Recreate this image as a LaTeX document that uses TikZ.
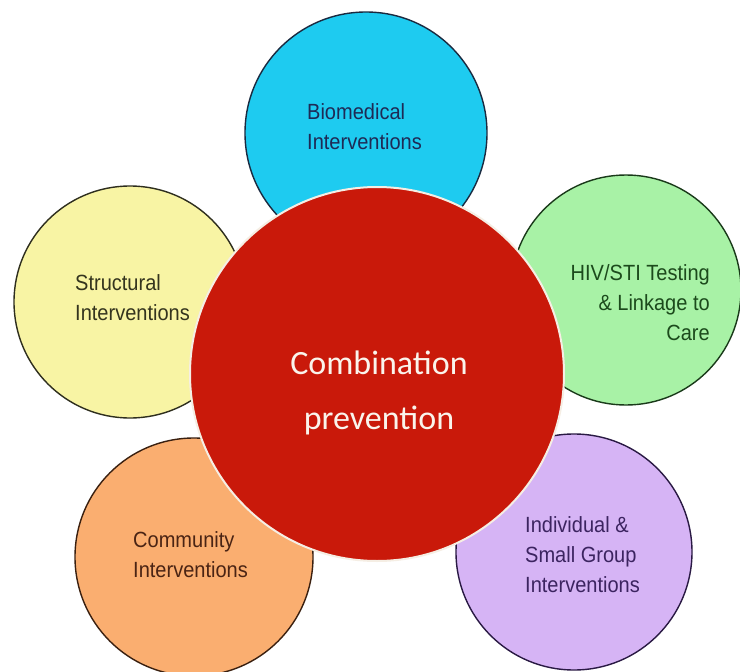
\documentclass[tikz,border=0pt]{standalone}
\usepackage{fontspec}
\setmainfont{Liberation Sans}[FakeStretch=0.91]
\newfontfamily\calib{Carlito}
\definecolor{bluef}{HTML}{1ECBF0}
\definecolor{greenf}{HTML}{A8F2A6}
\definecolor{yellowf}{HTML}{F8F4A4}
\definecolor{orangef}{HTML}{FAAE70}
\definecolor{purplef}{HTML}{D6B4F5}
\definecolor{redf}{HTML}{C9190A}
\definecolor{blueo}{HTML}{1A2A40}
\definecolor{greeno}{HTML}{1A3A1A}
\definecolor{yellowo}{HTML}{2E2E1E}
\definecolor{orangeo}{HTML}{3A2010}
\definecolor{purpleo}{HTML}{2A1A44}
\definecolor{biot}{HTML}{1E2A55}
\definecolor{hivt}{HTML}{1C4A1C}
\definecolor{strt}{HTML}{34341E}
\definecolor{comt}{HTML}{4A2414}
\definecolor{indt}{HTML}{3C2460}
\begin{document}
\begin{tikzpicture}[x=1pt,y=-1pt,
  disc/.style={circle, draw, line width=1.4pt, inner sep=0pt, minimum size=#1},
  lbl/.style={inner sep=0pt, font=\fontsize{22}{30}\selectfont}]
\useasboundingbox[fill=white] (0,0) rectangle (740,672);
\node[disc=242pt, fill=bluef, draw=blueo] (bio) at (366,133) {};
\node[disc=230pt, fill=greenf, draw=greeno] (hiv) at (626,290) {};
\node[disc=232pt, fill=yellowf, draw=yellowo] (str) at (130,302) {};
\node[disc=238pt, fill=orangef, draw=orangeo] (com) at (194,557) {};
\node[disc=236pt, fill=purplef, draw=purpleo] (ind) at (574,552) {};
\node[disc=374pt, fill=redf, draw={rgb,255:red,245;green,238;blue,228}, line width=2pt] (combo) at (377,374) {};
\node[lbl, anchor=north west, align=left, text=biot] (biotext) at (307,103) {Biomedical\\Interventions};
\node[lbl, anchor=north east, align=right, text=hivt] (hivtext) at (710,264) {HIV/STI Testing\\\& Linkage to\\Care};
\node[lbl, anchor=north west, align=left, text=strt] (strtext) at (75,274) {Structural\\Interventions};
\node[lbl, anchor=north west, align=left, text=comt] (comtext) at (133,531) {Community\\Interventions};
\node[lbl, anchor=north west, align=left, text=indt] (indtext) at (525,516) {Individual \&\\Small Group\\Interventions};
\node[inner sep=0pt, anchor=north, align=center, text={rgb,255:red,250;green,244;blue,236}, font=\calib\fontsize{34}{55}\selectfont] (combotext) at (379,351) {Combination\\prevention};
\end{tikzpicture}
\end{document}
